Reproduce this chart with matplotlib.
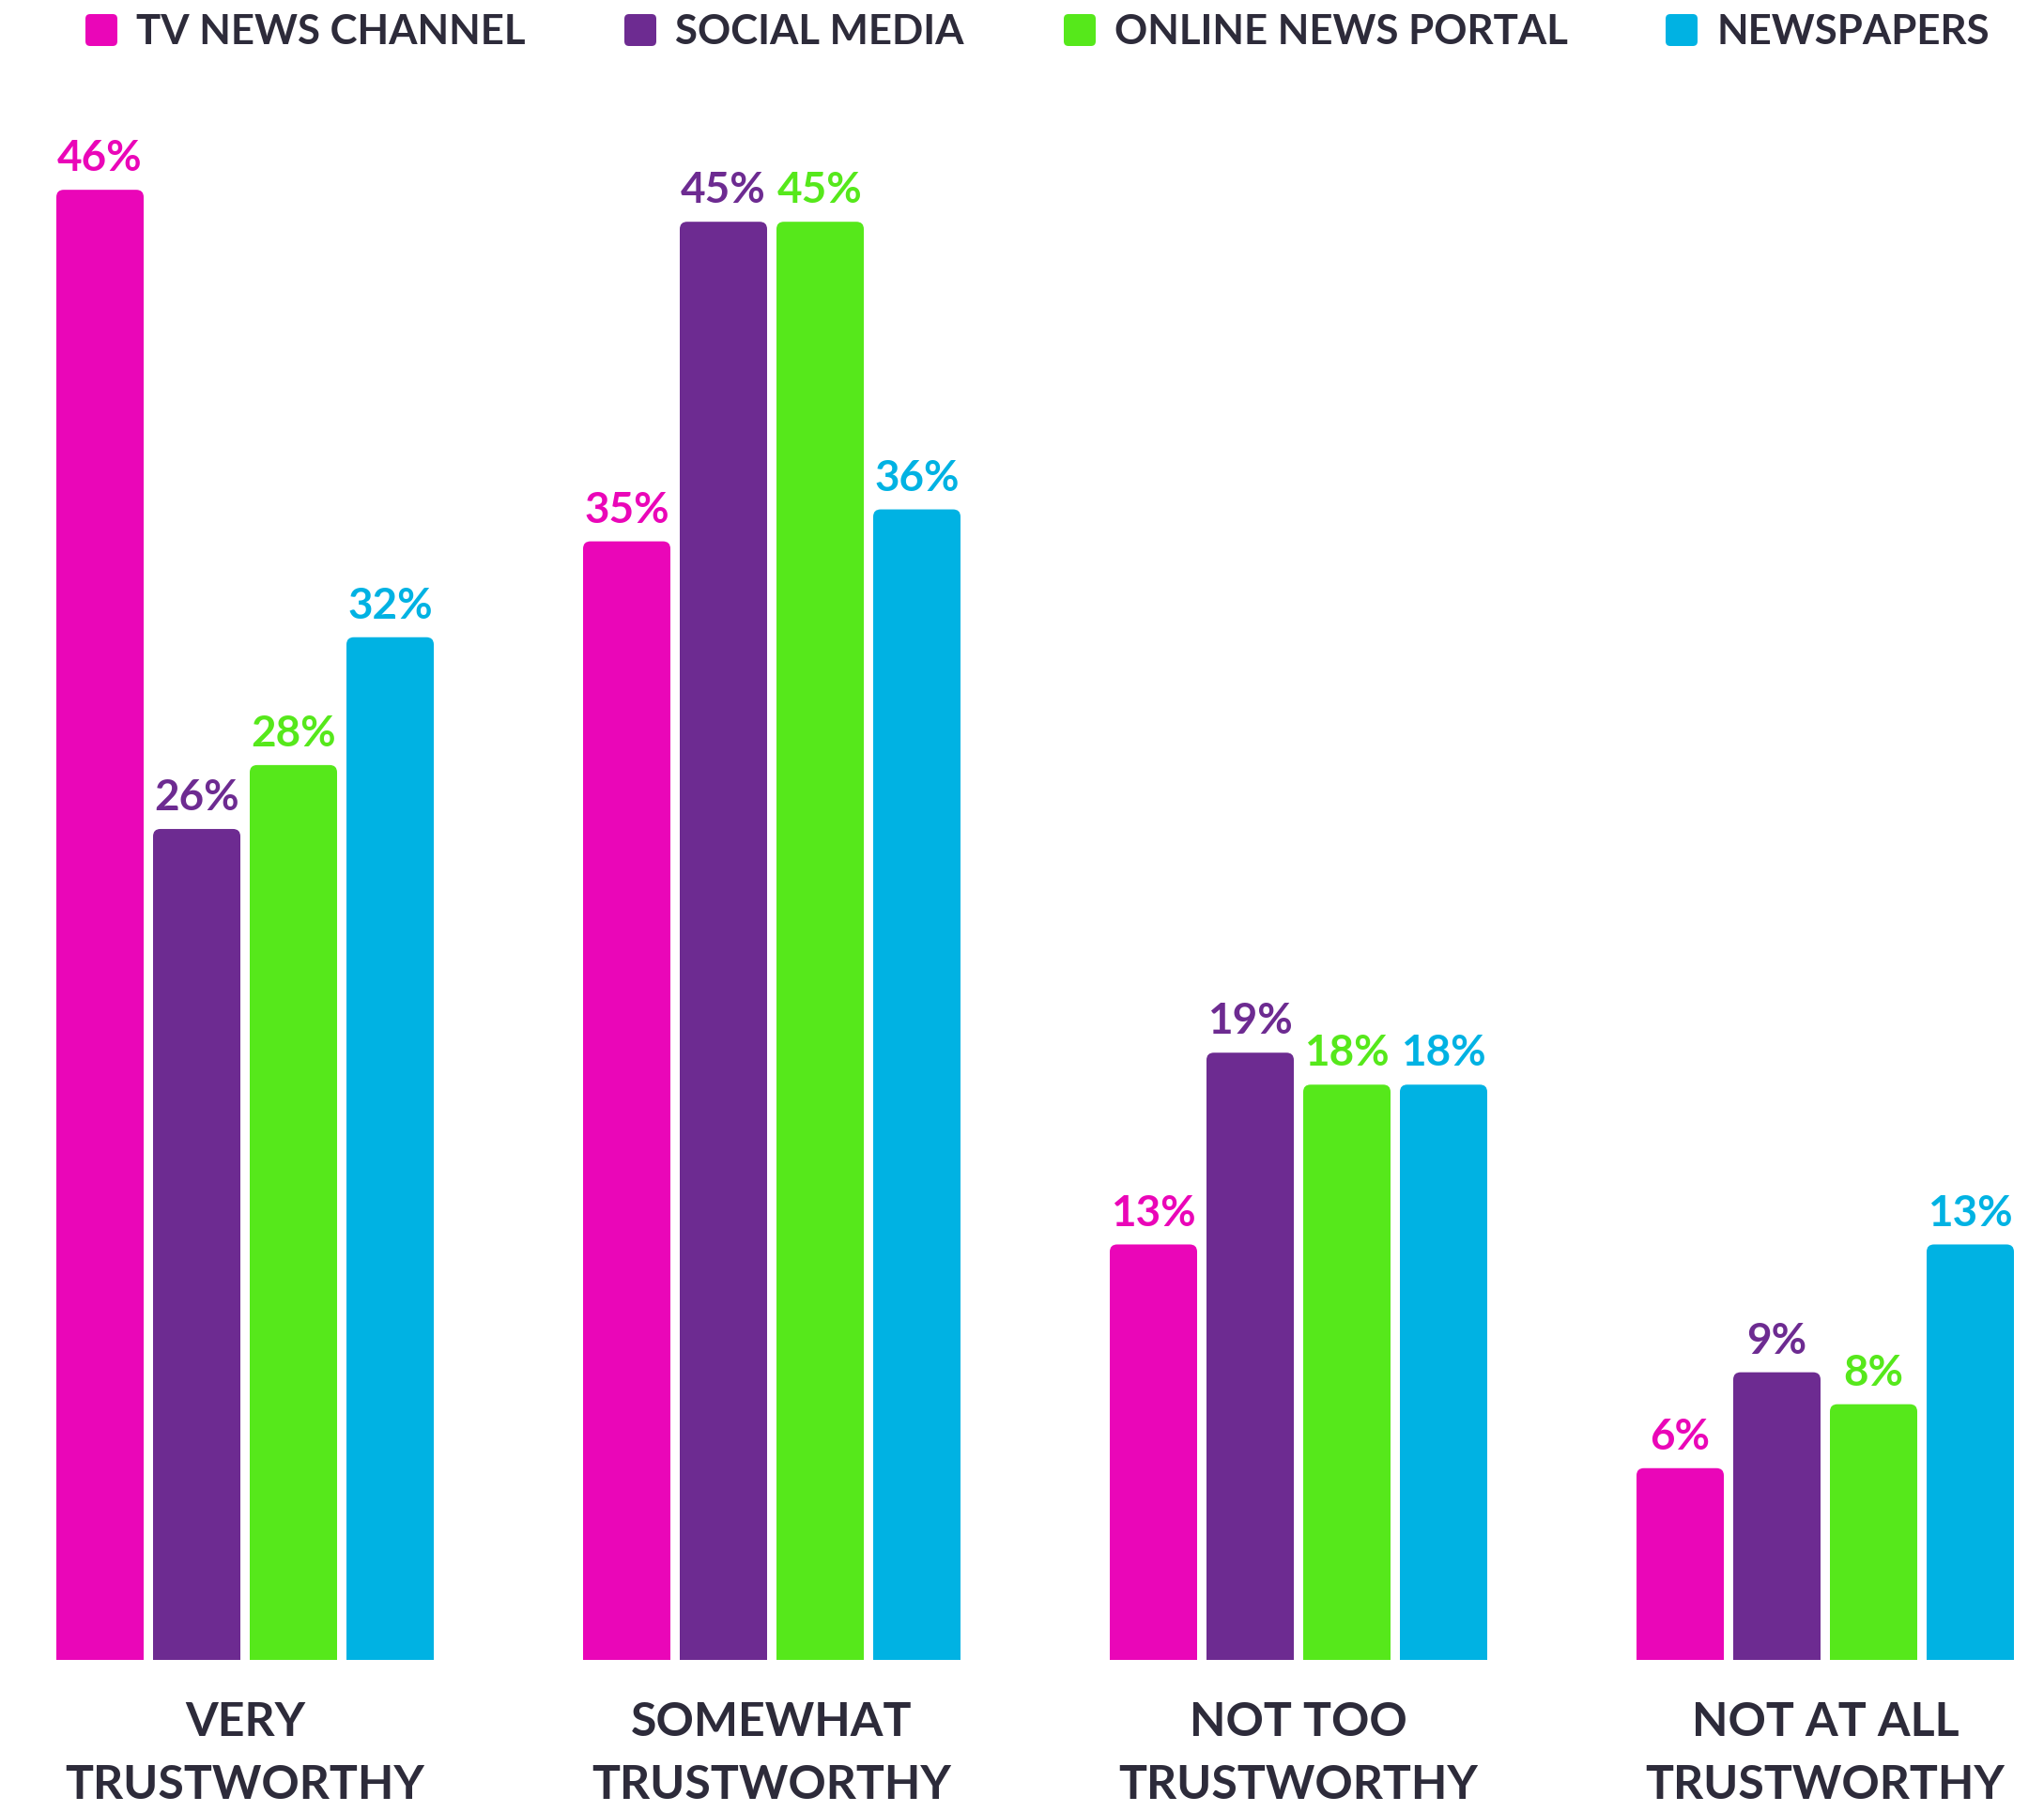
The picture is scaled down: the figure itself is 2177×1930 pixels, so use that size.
import matplotlib
matplotlib.use('Agg')
import matplotlib.pyplot as plt
from matplotlib.patches import FancyBboxPatch
from matplotlib.transforms import blended_transform_factory
import numpy as np

categories = ['VERY\nTRUSTWORTHY', 'SOMEWHAT\nTRUSTWORTHY', 'NOT TOO\nTRUSTWORTHY', 'NOT AT ALL\nTRUSTWORTHY']
series = ['TV NEWS CHANNEL', 'SOCIAL MEDIA', 'ONLINE NEWS PORTAL', 'NEWSPAPERS']
tv_news = [46, 35, 13, 6]
social_media = [26, 45, 19, 9]
online_portal = [28, 45, 18, 8]
newspapers = [32, 36, 18, 13]
values = [tv_news, social_media, online_portal, newspapers]
colors = ['#EA06B8', '#6D2B91', '#56E81B', '#00B2E3']
text_dark = '#2D2B3A'
FONT = 'Lato'

W, H = 2177, 1931
fig = plt.figure(figsize=(W / 100, H / 100), dpi=100)
ax = fig.add_axes([60 / W, 1 - 1769 / H, (2145 - 60) / W, 1702 / H])

bar_w = 93 / 561
pitch = 103 / 561
x = np.arange(len(categories))
offsets = (np.arange(4) - 1.5) * pitch

# px per data unit, keeps rounded corners circular
px_x = (2145 - 60) / (3 + 0.7166)
px_y = 1702 / 50

for i, (vals, col) in enumerate(zip(values, colors)):
    for xi, v in zip(x + offsets[i], vals):
        p = FancyBboxPatch((xi - bar_w / 2, -2), bar_w, v + 2,
                           boxstyle='round,pad=0,rounding_size=0.014',
                           mutation_aspect=px_x / px_y,
                           facecolor=col, edgecolor='none')
        ax.add_patch(p)
        ax.annotate(f'{v}%', (xi, v), xytext=(0, 15), textcoords='offset points',
                    ha='center', va='baseline', fontsize=33, fontweight='bold',
                    color=col, family=FONT)

ax.set_xlim(-0.3583, 3.3583)
ax.set_ylim(0, 50)
ax.axis('off')

# category labels, two lines under each group
tr = blended_transform_factory(ax.transData, fig.transFigure)
for xi, cat in zip(x, categories):
    l1, l2 = cat.split('\n')
    ax.text(xi, 1 - 1835 / H, l1, transform=tr, ha='center', va='center',
            fontsize=36, fontweight='bold', color=text_dark, family=FONT)
    ax.text(xi, 1 - 1902 / H, l2, transform=tr, ha='center', va='center',
            fontsize=36, fontweight='bold', color=text_dark, family=FONT)

# legend
sq_left = [91, 665, 1133, 1774]
for lx, name, col in zip(sq_left, series, colors):
    sq = FancyBboxPatch((lx / 100, (H - 50) / 100), 0.34, 0.34,
                        boxstyle='round,pad=0,rounding_size=0.05',
                        transform=fig.dpi_scale_trans, facecolor=col, edgecolor='none')
    fig.add_artist(sq)
    fig.text((lx + 54) / W, 1 - 34 / H, name, ha='left', va='center',
             fontsize=31.5, fontweight='bold', color=text_dark, family=FONT)

fig.savefig('out.png', dpi=100, facecolor='white')
